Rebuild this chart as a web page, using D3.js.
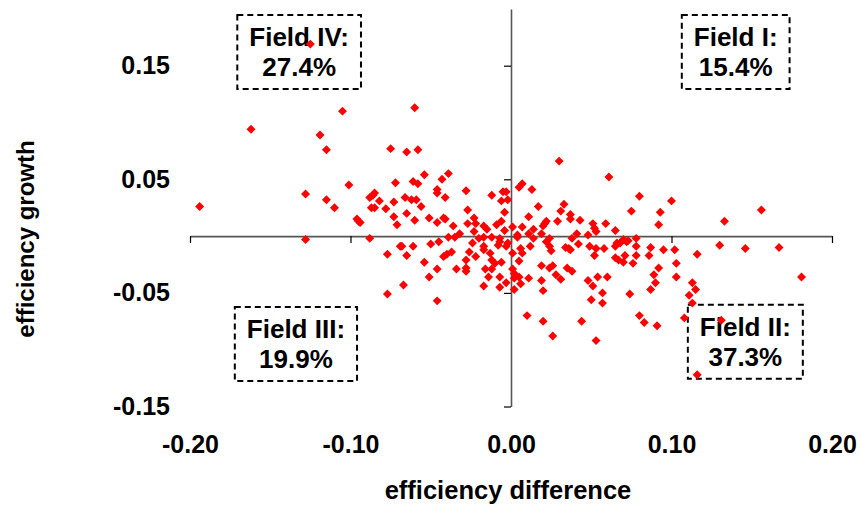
<!DOCTYPE html>
<html>
<head>
<meta charset="utf-8">
<script src="https://cdn.jsdelivr.net/npm/d3@7"></script>
<style>
  html, body { margin: 0; padding: 0; background: #fff; }
  svg text { font-family: "Liberation Sans", Arial, Helvetica, sans-serif; font-weight: bold; fill: #000; }
</style>
</head>
<body>
<svg id="chart" width="861" height="509"></svg>
<script>
// ---- data ----
const effDiff = [
  // field IV (x<0, y>0)
  -0.125,-0.105,-0.060,-0.162,-0.119,-0.115,-0.075,-0.065,-0.058,-0.054,-0.039,-0.043,-0.072,-0.061,-0.058,-0.101,-0.128,-0.194,-0.115,-0.110,
  -0.046,-0.046,-0.041,-0.028,-0.012,-0.005,-0.003,-0.006,-0.002,-0.004,-0.088,-0.085,-0.086,-0.082,-0.087,-0.085,-0.078,-0.073,-0.066,-0.062,
  -0.059,-0.056,-0.065,-0.073,-0.071,-0.060,-0.051,-0.046,-0.042,-0.041,-0.036,-0.027,-0.023,-0.027,-0.022,-0.096,-0.095,-0.094,-0.017,-0.015,
  -0.009,-0.006,-0.004,-0.023,-0.032,
  // field I (x>0, y>0)
  0.005,0.001,0.004,0.030,0.061,0.007,0.013,0.017,0.033,0.031,0.037,0.037,0.043,0.029,0.011,0.021,0.022,0.020,0.007,0.014,
  0.019,0.011,0.048,0.051,0.052,0.053,0.059,0.065,0.041,0.075,0.080,0.093,0.092,0.100,0.133,0.156,
  // field III (x<0, y<0)
  -0.035,-0.039,-0.020,-0.017,-0.012,-0.007,-0.128,-0.088,-0.069,-0.068,-0.061,-0.050,-0.045,-0.024,-0.017,-0.008,-0.002,-0.077,-0.065,-0.054,
  -0.042,-0.040,-0.037,-0.046,-0.034,-0.028,-0.026,-0.022,-0.028,-0.028,-0.017,-0.013,-0.012,-0.010,-0.006,-0.016,-0.012,-0.014,-0.007,-0.003,
  -0.017,-0.007,-0.051,-0.067,-0.077,-0.046,-0.003,-0.007,
  // field II (x>0, y<0)
  0.004,0.001,0.002,0.002,0.001,0.002,0.005,0.006,0.007,0.005,0.006,0.012,0.011,0.010,0.019,0.024,0.026,0.019,0.020,0.020,
  0.026,0.024,0.025,0.022,0.034,0.036,0.037,0.042,0.028,0.031,0.035,0.038,0.044,0.048,0.050,0.051,0.049,0.052,0.053,0.054,
  0.053,0.057,0.057,0.058,0.065,0.066,0.060,0.065,0.067,0.070,0.071,0.068,0.072,0.074,0.076,0.078,0.078,0.080,0.083,0.087,
  0.086,0.089,0.090,0.087,0.092,0.091,0.095,0.102,0.103,0.103,0.116,0.113,0.115,0.111,0.113,0.108,0.131,0.116,0.130,0.146,
  0.167,0.181,0.070,0.073,0.078,0.014,0.024,0.038
];
const effGrowth = [
  // field IV
  0.169,0.110,0.113,0.094,0.089,0.076,0.077,0.074,0.076,0.054,0.055,0.050,0.047,0.048,0.046,0.045,0.037,0.026,0.032,0.025,
  0.041,0.038,0.034,0.040,0.036,0.039,0.039,0.031,0.032,0.021,0.034,0.038,0.036,0.031,0.025,0.025,0.024,0.030,0.034,0.032,
  0.032,0.026,0.020,0.017,0.010,0.014,0.016,0.012,0.016,0.015,0.009,0.023,0.016,0.011,0.011,0.015,0.013,0.012,0.009,0.006,
  0.010,0.013,0.005,0.004,0.002,
  // field I
  0.043,0.008,0.001,0.066,0.052,0.046,0.041,0.026,0.028,0.022,0.019,0.015,0.014,0.013,0.017,0.011,0.013,0.009,0.008,0.006,
  0.002,0.002,0.001,0.011,0.007,0.004,0.011,0.005,0.002,0.022,0.035,0.021,0.010,0.031,0.013,0.023,
  // field III
  -0.001,-0.001,-0.002,-0.001,-0.001,-0.002,-0.003,-0.002,-0.009,-0.009,-0.009,-0.007,-0.005,-0.006,-0.009,-0.008,-0.006,-0.016,-0.017,-0.023,
  -0.018,-0.016,-0.014,-0.029,-0.029,-0.021,-0.014,-0.018,-0.028,-0.031,-0.012,-0.015,-0.021,-0.024,-0.023,-0.029,-0.029,-0.036,-0.036,-0.041,
  -0.044,-0.045,-0.036,-0.043,-0.051,-0.057,-0.009,-0.005,
  // field II
  -0.001,-0.015,-0.033,-0.047,-0.029,-0.037,-0.022,-0.011,-0.015,-0.036,-0.042,-0.009,-0.037,-0.070,-0.026,-0.028,-0.026,-0.039,-0.048,-0.075,
  -0.088,-0.009,-0.013,-0.005,-0.010,-0.011,-0.012,-0.007,-0.034,-0.038,-0.028,-0.031,-0.075,-0.039,-0.056,-0.044,-0.009,-0.017,-0.011,-0.036,
  -0.092,-0.050,-0.059,-0.011,-0.009,-0.006,-0.036,-0.019,-0.021,-0.023,-0.017,-0.006,-0.005,-0.051,-0.024,-0.009,-0.017,-0.070,-0.076,-0.010,
  -0.017,-0.034,-0.041,-0.047,-0.028,-0.079,-0.012,-0.012,-0.024,-0.036,-0.016,-0.041,-0.047,-0.052,-0.059,-0.072,-0.074,-0.122,-0.008,-0.011,
  -0.010,-0.036,-0.003,-0.004,-0.002,-0.002,-0.002,-0.002
];
const xTicks = [-0.20, -0.10, 0.00, 0.10, 0.20];
const yTicks = [-0.15, -0.05, 0.05, 0.15];
const fieldNames  = ["Field I:", "Field II:", "Field III:", "Field IV:"];
const fieldShares = ["15.4%", "37.3%", "19.9%", "27.4%"];
const fieldAnchorX = [0.140, 0.146, -0.134, -0.132];   // box centres, data units
const fieldAnchorY = [0.162, -0.093, -0.095, 0.162];

const xTitle = "efficiency difference";
const yTitle = "efficiency growth";

// ---- layout ----
const svg = d3.select("#chart");
const x = d3.scaleLinear().domain([-0.20, 0.20]).range([190, 832]);
const y = d3.scaleLinear().domain([-0.15, 0.20]).range([406.5, 8.9]);
const fmt = d => d3.format(".2f")(d).replace("\u2212", "-");

// axes crossing at origin
const xAxis = svg.append("g")
  .attr("transform", `translate(0,${y(0)})`)
  .call(d3.axisBottom(x).tickValues(xTicks).tickSize(7).tickSizeOuter(0).tickFormat(""));
const yAxis = svg.append("g")
  .attr("transform", `translate(${x(0)},0)`)
  .call(d3.axisLeft(y).tickValues(yTicks).tickSize(7).tickSizeOuter(0).tickFormat(""));
[xAxis, yAxis].forEach(g => {
  g.select(".domain").attr("stroke", "#555").attr("stroke-width", 1.6);
  g.selectAll(".tick line").attr("stroke", "#000").attr("stroke-width", 1.2);
});

// tick labels at the low edge (Excel style)
const xLab = svg.append("g")
  .attr("transform", "translate(0,435)")
  .call(d3.axisBottom(x).tickValues(xTicks).tickSize(0).tickPadding(0).tickFormat(fmt));
const yLab = svg.append("g")
  .attr("transform", "translate(170,0)")
  .call(d3.axisLeft(y).tickValues(yTicks).tickSize(0).tickPadding(0).tickFormat(fmt));
[xLab, yLab].forEach(g => {
  g.select(".domain").remove();
  g.selectAll("text")
    .attr("font-size", 25)
    .attr("font-family", "Liberation Sans, Arial, sans-serif")
    .attr("font-weight", "bold")
    .attr("fill", "#000");
});

// axis titles
svg.append("text")
  .attr("x", 508).attr("y", 499)
  .attr("text-anchor", "middle")
  .attr("font-size", 25.5)
  .text(xTitle);
svg.append("text")
  .attr("transform", "translate(34,239) rotate(-90)")
  .attr("text-anchor", "middle")
  .attr("font-size", 24)
  .text(yTitle);

// field boxes
const fields = fieldNames.map((n, i) => ({ name: n, share: fieldShares[i], fx: fieldAnchorX[i], fy: fieldAnchorY[i] }));
const boxH = 74;
const fg = svg.append("g").selectAll("g").data(fields).join("g")
  .attr("transform", d => `translate(${x(d.fx)},${y(d.fy)})`);
const rects = fg.append("rect")
  .attr("fill", "none")
  .attr("stroke", "#000")
  .attr("stroke-width", 2)
  .attr("stroke-dasharray", "6,4");
fg.append("text")
  .attr("class", "l1")
  .attr("text-anchor", "middle")
  .attr("y", -6)
  .attr("font-size", 26)
  .text(d => d.name);
fg.append("text")
  .attr("text-anchor", "middle")
  .attr("y", 24)
  .attr("font-size", 26)
  .text(d => d.share);
rects.each(function() {
  const g = d3.select(this.parentNode);
  const w = g.select("text.l1").node().getComputedTextLength() + 24;
  d3.select(this)
    .attr("x", -w / 2).attr("y", -boxH / 2)
    .attr("width", w).attr("height", boxH);
});

// points
const pts = effDiff.map((v, i) => ({ dx: v, gy: effGrowth[i] }));
svg.append("g").selectAll("path").data(pts).join("path")
  .attr("d", d3.symbol().type(d3.symbolSquare).size(40)())
  .attr("transform", d => `translate(${x(d.dx)},${y(d.gy)}) rotate(45)`)
  .attr("fill", "#ff0000");
</script>
</body>
</html>
